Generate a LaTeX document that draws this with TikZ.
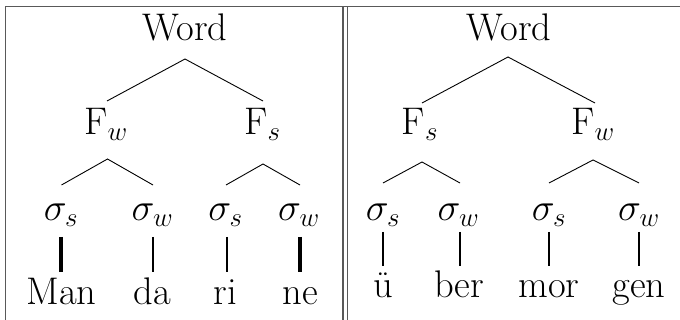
\RequirePackage{fix-cm}
\documentclass[tikz,border=0pt]{standalone}
\DeclareMathSizes{38.5}{38.5}{27}{19}
\begin{document}
\begin{tikzpicture}[x=1pt,y=-1pt,
  lab/.style={anchor=base,inner sep=0pt,font=\fontsize{38.5}{40}\selectfont},
  edge/.style={line width=0.9pt,black},
  bar/.style={line width=2.6pt,black},
  frame/.style={line width=1.2pt,black!65}]
\useasboundingbox (0,0) rectangle (680,320);
% frame
\draw[frame] (5.5,320) -- (5.5,6.5) -- (680,6.5);
\draw[frame] (343,6.5) -- (343,320);
\draw[frame] (347.5,6.5) -- (347.5,320);

% ---------- left tree ----------
\node[lab] (lword) at (185,41) {Word};
\node[lab] (lf1) at (106,135) {F$_w$};
\node[lab] (lf2) at (262.5,135) {F$_s$};
\node[lab] (ls1) at (61,221) {$\sigma_s$};
\node[lab] (ls2) at (152.5,221) {$\sigma_w$};
\node[lab] (ls3) at (225.5,221) {$\sigma_s$};
\node[lab] (ls4) at (299,221) {$\sigma_w$};
\node[lab] (lw1) at (61.5,305) {Man};
\node[lab] (lw2) at (152.5,305) {da};
\node[lab] (lw3) at (225.5,305) {ri};
\node[lab] (lw4) at (300,305) {ne};

\coordinate (la0) at (185,59);
\coordinate (la1) at (107,101);
\coordinate (la2) at (263,101);
\coordinate (lb0) at (107.5,159);
\coordinate (lb1) at (61.5,185);
\coordinate (lb2) at (153,185);
\coordinate (lc0) at (263,164);
\coordinate (lc1) at (226,185);
\coordinate (lc2) at (300,185);
\draw[edge] (la1) -- (la0) -- (la2);
\draw[edge] (lb1) -- (lb0) -- (lb2);
\draw[edge] (lc1) -- (lc0) -- (lc2);

\draw[bar,line width=3.4pt] (61,237) -- (61,272);
\draw[bar,line width=2.2pt] (153,237) -- (153,272);
\draw[bar,line width=2.6pt] (227,237) -- (227,272);
\draw[bar,line width=3.4pt] (300,237) -- (300,272);

% ---------- right tree ----------
\node[lab] (rword) at (509,41) {Word};
\node[lab] (rf1) at (420,135) {F$_s$};
\node[lab] (rf2) at (593,135) {F$_w$};
\node[lab] (rs1) at (383,221) {$\sigma_s$};
\node[lab] (rs2) at (458.5,221) {$\sigma_w$};
\node[lab] (rs3) at (549,221) {$\sigma_s$};
\node[lab] (rs4) at (639,221) {$\sigma_w$};
\node[lab] (rw1) at (383,298) {ü};
\node[lab] (rw2) at (459,298) {ber};
\node[lab] (rw3) at (549,298) {mor};
\node[lab] (rw4) at (639,298) {gen};

\coordinate (ra0) at (508,57);
\coordinate (ra1) at (422,103);
\coordinate (ra2) at (595,103);
\coordinate (rb0) at (422,162);
\coordinate (rb1) at (383,183);
\coordinate (rb2) at (460,183);
\coordinate (rc0) at (593,160);
\coordinate (rc1) at (549,183);
\coordinate (rc2) at (639,183);
\draw[edge] (ra1) -- (ra0) -- (ra2);
\draw[edge] (rb1) -- (rb0) -- (rb2);
\draw[edge] (rc1) -- (rc0) -- (rc2);

\draw[bar] (383,232) -- (383,266);
\draw[bar] (460,232) -- (460,266);
\draw[bar] (549,232) -- (549,266);
\draw[bar] (639,232) -- (639,266);
\end{tikzpicture}
\end{document}
